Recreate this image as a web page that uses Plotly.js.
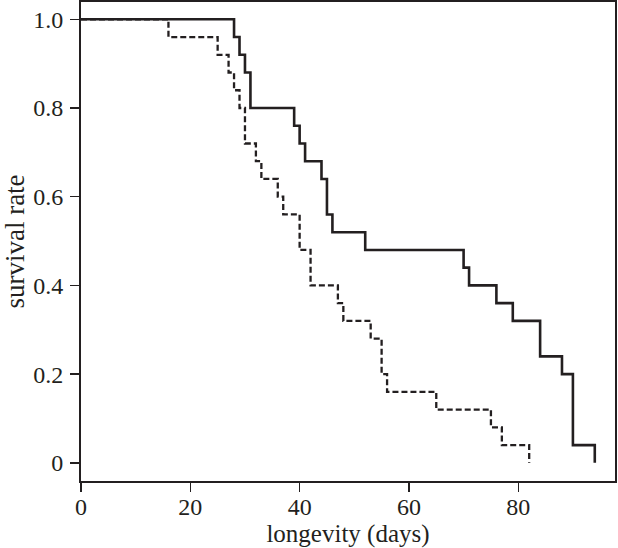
<!DOCTYPE html>
<html>
<head>
<meta charset="utf-8">
<script src="https://cdn.plot.ly/plotly-3.0.1.min.js"></script>
<style>html,body{margin:0;padding:0;background:#fff;}#chart{width:618px;height:548px;}</style>
</head>
<body>
<div id="chart"></div>
<script>
// Group 1 (solid line): day of each step and survival rate after it
const solidDays = [0, 28, 29, 30, 31, 39, 40, 41, 44, 45, 46, 52, 70, 71, 76, 79, 84, 88, 90, 94];
const solidSurvival = [1.0, 0.96, 0.92, 0.88, 0.80, 0.76, 0.72, 0.68, 0.64, 0.56, 0.52, 0.48, 0.44, 0.40, 0.36, 0.32, 0.24, 0.20, 0.04, 0.0];
// Group 2 (dashed line)
const dashedDays = [0, 16, 25, 27, 28, 29, 30, 32, 33, 36, 37, 40, 42, 47, 48, 53, 55, 56, 65, 75, 77, 82];
const dashedSurvival = [1.0, 0.96, 0.92, 0.88, 0.84, 0.80, 0.72, 0.68, 0.64, 0.60, 0.56, 0.48, 0.40, 0.36, 0.32, 0.28, 0.20, 0.16, 0.12, 0.08, 0.04, 0.0];
const xTicks = [0, 20, 40, 60, 80];
const yTicks = [0, 0.2, 0.4, 0.6, 0.8, 1.0];
const yTickLabels = ['0', '0.2', '0.4', '0.6', '0.8', '1.0'];

const fam = '"Liberation Serif", "Times New Roman", serif';
const tickFont = {family: fam, size: 24, color: '#231f20'};
const xTitleFont = {family: fam, size: 25, color: '#231f20'};
const yTitleFont = {family: fam, size: 27, color: '#231f20'};

const traces = [
  {x: solidDays, y: solidSurvival, type: 'scatter', mode: 'lines',
   line: {shape: 'hv', color: '#231f20', width: 2.6}, showlegend: false},
  {x: dashedDays, y: dashedSurvival, type: 'scatter', mode: 'lines',
   line: {shape: 'hv', color: '#231f20', width: 2.3, dash: '6px,3px'}, showlegend: false}
];

const layout = {
  width: 618, height: 548,
  margin: {l: 81, r: 3, t: 2, b: 67},
  paper_bgcolor: '#fff', plot_bgcolor: '#fff',
  font: tickFont,
  xaxis: {
    range: [0, 97.7], tickvals: xTicks, ticks: 'outside', ticklen: 9, tickwidth: 1.5,
    tickcolor: '#231f20', showline: true, linewidth: 2, linecolor: '#231f20', mirror: true,
    showgrid: false, zeroline: false, tickfont: tickFont, ticklabelstandoff: -6,
    title: {text: 'longevity (days)', font: xTitleFont, standoff: 4}
  },
  yaxis: {
    range: [-0.041, 1.039], tickvals: yTicks, ticktext: yTickLabels, ticks: 'outside', ticklen: 9,
    tickwidth: 1.5, tickcolor: '#231f20', showline: true, linewidth: 2, linecolor: '#231f20',
    mirror: true, showgrid: false, zeroline: false, tickfont: tickFont, ticklabelstandoff: 2,
    title: {text: 'survival rate', font: yTitleFont, standoff: 6}
  }
};

Plotly.newPlot('chart', traces, layout, {displayModeBar: false, staticPlot: true});
</script>
</body>
</html>
